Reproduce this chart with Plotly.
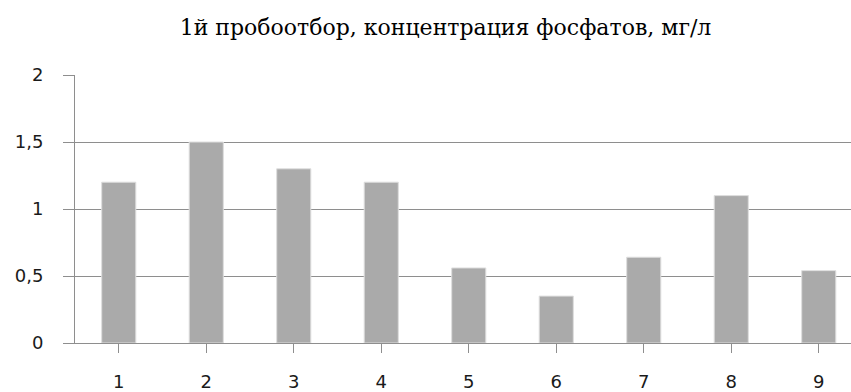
import plotly.graph_objects as go

categories = ["1", "2", "3", "4", "5", "6", "7", "8", "9"]
values = [1.2, 1.5, 1.3, 1.2, 0.56, 0.35, 0.64, 1.1, 0.54]
y_ticks = [0, 0.5, 1, 1.5, 2]
title_text = "1й пробоотбор, концентрация фосфатов, мг/л"

W, H = 851, 392
ML, MT, MB = 75, 75, 44
cat_px = 87.5
visible_cats = (W - ML) / cat_px

fig = go.Figure(
    go.Bar(
        x=list(range(len(categories))),
        y=values,
        width=0.39,
        marker=dict(color="#aaaaaa", line=dict(color="#dedede", width=1)),
    )
)

grid = "#8e8e8e"
fig.update_layout(
    width=W,
    height=H,
    margin=dict(l=ML, r=0, t=MT, b=MB, pad=0),
    paper_bgcolor="white",
    plot_bgcolor="white",
    separators=", ",
    showlegend=False,
    title=dict(
        text=title_text,
        font=dict(family="DejaVu Serif", size=22, color="black"),
        xref="container", x=445.5 / W, xanchor="center",
        yref="container", y=1 - 27 / H, yanchor="middle",
    ),
    xaxis=dict(
        range=[-0.5, -0.5 + visible_cats],
        tickmode="array",
        tickvals=list(range(len(categories))),
        ticktext=categories,
        tickson="boundaries",
        ticks="outside",
        ticklen=9,
        tickcolor=grid,
        showline=True,
        linecolor=grid,
        linewidth=1,
        showgrid=False,
        zeroline=False,
        ticklabelstandoff=13,
        tickfont=dict(family="DejaVu Sans", size=18, color="#1a1a1a"),
    ),
    yaxis=dict(
        range=[0, 2],
        tickvals=y_ticks,
        ticks="outside",
        ticklen=11,
        tickcolor=grid,
        showline=True,
        linecolor=grid,
        showgrid=True,
        gridcolor=grid,
        gridwidth=1,
        zeroline=False,
        ticklabelstandoff=16,
        tickfont=dict(family="DejaVu Sans", size=18, color="#1a1a1a"),
    ),
)

fig.write_html("out.html")
